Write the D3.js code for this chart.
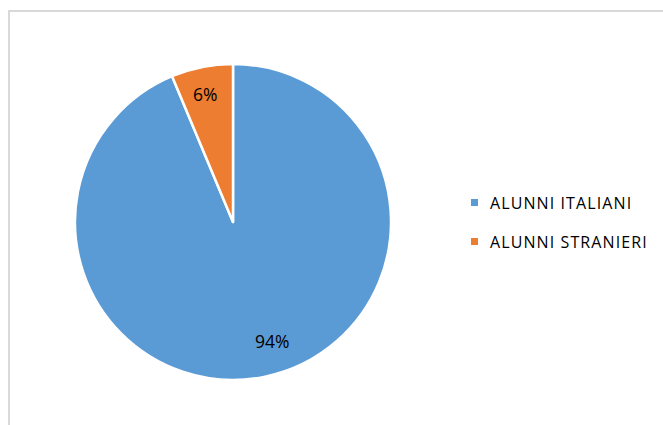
<!DOCTYPE html>
<html><head><meta charset="utf-8">
<script src="https://cdn.jsdelivr.net/npm/d3@7"></script>
<style>body{margin:0;background:#fff}svg{display:block}text{font-family:"Open Sans",sans-serif}</style>
</head><body>
<script>
const categories = ["ALUNNI ITALIANI", "ALUNNI STRANIERI"];
const values = [93.7, 6.3];
const W = 663, H = 425;
const colors = ["#5B9BD5", "#ED7D31"];
const total = d3.sum(values);

const svg = d3.select("body").append("svg").attr("width", W).attr("height", H);

// chart frame (cropped)
svg.append("path").attr("d", `M9,${H} V11 H${W}`).attr("fill", "none")
  .attr("stroke", "#d9d9d9").attr("stroke-width", 2);

const cx = 233, cy = 222, R = 158;
const pie = d3.pie().sort(null).value(d => d)(values);
const arc = d3.arc().innerRadius(0).outerRadius(R);
const g = svg.append("g").attr("transform", `translate(${cx},${cy})`);
g.selectAll("path").data(pie).join("path")
  .attr("d", arc).attr("fill", (d, i) => colors[i])
  .attr("stroke", "#fff").attr("stroke-width", 2.5).attr("stroke-linejoin", "round");

const labelR = [R * 0.78, R * 0.83];
const shift = [[15, -2], [-2, 1]];
g.selectAll("text").data(pie).join("text")
  .attr("transform", (d, i) => {
    const a = d3.arc().innerRadius(labelR[i]).outerRadius(labelR[i]);
    const c = a.centroid(d);
    return `translate(${c[0] + shift[i][0]},${c[1] + shift[i][1]})`;
  })
  .attr("text-anchor", "middle").attr("dominant-baseline", "central")
  .attr("font-size", 17.5).attr("fill", "#000")
  .text(d => Math.round(d.value / total * 100) + "%");

// legend
const leg = svg.append("g").attr("transform", "translate(471,199)");
const row = leg.selectAll("g").data(categories).join("g")
  .attr("transform", (d, i) => `translate(0,${i * 39})`);
row.append("rect").attr("width", 7).attr("height", 7).attr("fill", (d, i) => colors[i]);
row.append("text").attr("x", 19).attr("y", 4).attr("dominant-baseline", "central")
  .attr("font-size", 16).attr("letter-spacing", 1.1).attr("fill", "#000").text(d => d);
</script>
</body></html>
